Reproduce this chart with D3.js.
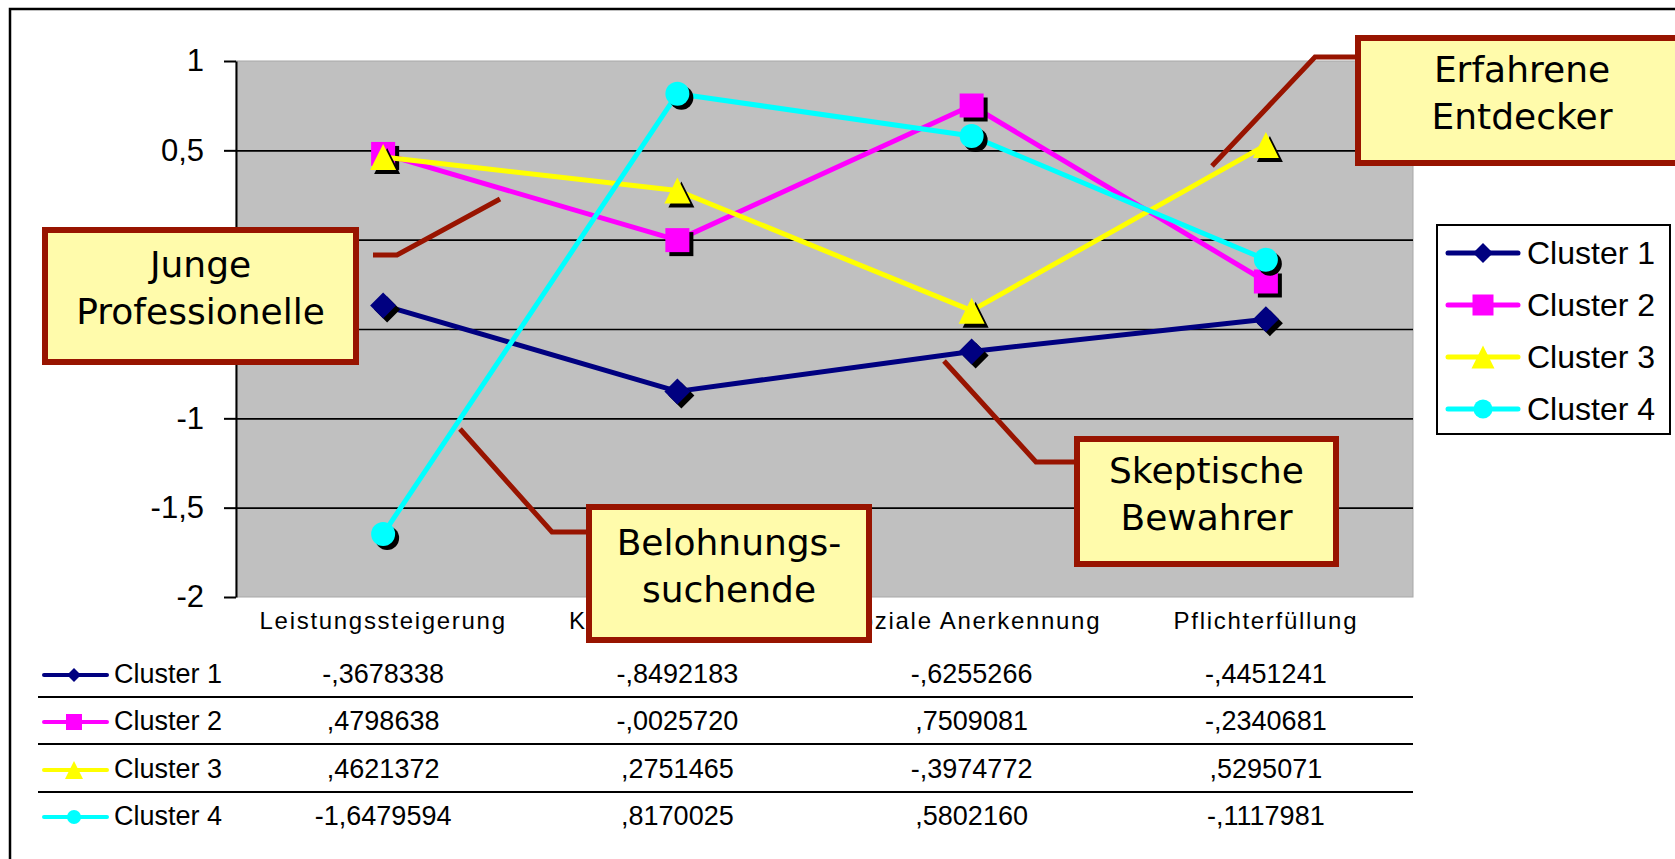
<!DOCTYPE html>
<head>
<meta charset="utf-8">
<style>
    body { margin: 0; background: #fff; }
    svg text { font-family: "Liberation Sans", Arial, sans-serif; fill: #000; }
    g.box text { font-family: "DejaVu Sans", Verdana, sans-serif; }
</style>
<script src="https://d3js.org/d3.v7.min.js"></script>
</head>
<body>
<script>
// chart values
var categories = ["Leistungssteigerung", "Karriereförderung", "Soziale Anerkennung", "Pflichterfüllung"];
var seriesNames = ["Cluster 1", "Cluster 2", "Cluster 3", "Cluster 4"];
var cluster1 = [-0.3678338, -0.8492183, -0.6255266, -0.4451241];
var cluster2 = [0.4798638, -0.0025720, 0.7509081, -0.2340681];
var cluster3 = [0.4621372, 0.2751465, -0.3974772, 0.5295071];
var cluster4 = [-1.6479594, 0.8170025, 0.5802160, -0.1117981];
var yTicks = [1, 0.5, 0, -0.5, -1, -1.5, -2];
var gridTicks = [0.5, 0, -0.5, -1, -1.5];

var seriesValues = [cluster1, cluster2, cluster3, cluster4];
var seriesColors = ["#000080", "#ff00ff", "#ffff00", "#00ffff"];
var seriesShapes = ["diamond", "square", "triangle", "circle"];

// callout boxes (layout only)
var callouts = [
    {lines: ["Junge", "Professionelle"], box: [42, 227, 317, 138], leader: [[373, 255], [397, 255], [500, 199]]},
    {lines: ["Belohnungs-", "suchende"], box: [586, 504, 286, 139], leader: [[460, 429], [552, 532], [586, 532]]},
    {lines: ["Skeptische", "Bewahrer"], box: [1074, 436, 265, 131], leader: [[944, 361], [1036, 462], [1074, 462]]},
    {lines: ["Erfahrene", "Entdecker"], box: [1355, 35, 340, 131], leader: [[1212, 166], [1315, 57], [1355, 57]]}
];

var width = 1675, height = 859;
var plot = {left: 236, top: 61, right: 1413, bottom: 597};
var calloutColor = "#981400";

var svg = d3.select("body").append("svg")
    .attr("width", width)
    .attr("height", height);

var x = d3.scaleBand()
    .domain(categories)
    .range([plot.left, plot.right]);

var y = d3.scaleLinear()
    .domain([-2, 1])
    .range([plot.bottom, plot.top]);

var deLocale = d3.formatLocale({decimal: ",", thousands: ".", grouping: [3], currency: ["", "€"], minus: "-"});
var tickFmt = deLocale.format("~g");

function shapePath(type, s) {
    var h = s / 2;
    if (type == "diamond") return "M0," + (-h) + "L" + h + ",0L0," + h + "L" + (-h) + ",0Z";
    if (type == "square") return "M" + (-h) + "," + (-h) + "H" + h + "V" + h + "H" + (-h) + "Z";
    if (type == "triangle") return "M0," + (-h) + "L" + h + "," + h + "L" + (-h) + "," + h + "Z";
    return "M" + h + ",0A" + h + "," + h + " 0 1,1 " + (-h) + ",0A" + h + "," + h + " 0 1,1 " + h + ",0Z";
}
var chartSizes = {diamond: 26, square: 24, triangle: 26, circle: 24};
var legendSizes = {diamond: 20, square: 21, triangle: 23, circle: 19};
var tableSizes = {diamond: 14, square: 16, triangle: 18, circle: 14};

function fmtValue(v) {
    var s = v.toFixed(7).replace(".", ",");
    return s.replace(/^(-?)0,/, "$1,");
}

// outer frame
svg.append("rect")
    .attr("x", 10).attr("y", 9)
    .attr("width", 1720).attr("height", 900)
    .attr("fill", "none")
    .attr("stroke", "#000")
    .attr("stroke-width", 2.5);

// plot area
svg.append("rect")
    .attr("x", plot.left).attr("y", plot.top)
    .attr("width", plot.right - plot.left)
    .attr("height", plot.bottom - plot.top)
    .attr("fill", "#c0c0c0")
    .attr("stroke", "#a8a8a8")
    .attr("stroke-width", 1);

// grid lines
svg.append("g")
    .attr("transform", "translate(" + plot.left + ",0)")
    .call(d3.axisLeft(y).tickValues(gridTicks).tickSize(-(plot.right - plot.left)).tickFormat(""))
    .call(function(g) { g.select(".domain").remove(); })
    .selectAll("line")
    .attr("stroke", "#000")
    .attr("stroke-width", 1.6);

// y axis
var yAxis = svg.append("g")
    .attr("transform", "translate(" + plot.left + ",0)")
    .call(d3.axisLeft(y).tickValues(yTicks).tickSize(12).tickSizeOuter(0).tickPadding(20).tickFormat(tickFmt));
yAxis.select(".domain").attr("stroke", "#000").attr("stroke-width", 2);
yAxis.selectAll(".tick line").attr("stroke", "#000").attr("stroke-width", 2);
yAxis.selectAll("text")
    .style("font-family", "'Liberation Sans', Arial, sans-serif")
    .style("font-size", "31px")
    .attr("fill", "#000");

// category labels
var xAxis = svg.append("g")
    .attr("transform", "translate(0," + plot.bottom + ")")
    .call(d3.axisBottom(x).tickSize(0).tickPadding(15));
xAxis.select(".domain").remove();
xAxis.selectAll("text")
    .style("font-family", "'Liberation Sans', Arial, sans-serif")
    .style("font-size", "24px")
    .style("letter-spacing", "1.7px")
    .attr("fill", "#000");

// series
var line = d3.line()
    .x(function(d, i) { return x(categories[i]) + x.bandwidth() / 2; })
    .y(function(d) { return y(d); });

seriesValues.forEach(function(vals, si) {
    var g = svg.append("g");
    g.append("path")
        .datum(vals)
        .attr("d", line)
        .attr("fill", "none")
        .attr("stroke", seriesColors[si])
        .attr("stroke-width", 5)
        .attr("stroke-linejoin", "round");
    var shape = seriesShapes[si];
    g.selectAll("path.shadow")
        .data(vals)
        .enter().append("path")
        .attr("class", "shadow")
        .attr("d", shapePath(shape, chartSizes[shape]))
        .attr("transform", function(d, i) {
            return "translate(" + (x(categories[i]) + x.bandwidth() / 2 + 4) + "," + (y(d) + 4) + ")";
        })
        .attr("fill", "#000");
    g.selectAll("path.marker")
        .data(vals)
        .enter().append("path")
        .attr("class", "marker")
        .attr("d", shapePath(shape, chartSizes[shape]))
        .attr("transform", function(d, i) {
            return "translate(" + (x(categories[i]) + x.bandwidth() / 2) + "," + y(d) + ")";
        })
        .attr("fill", seriesColors[si]);
});

// legend
var legend = svg.append("g").attr("transform", "translate(1437,225)");
legend.append("rect")
    .attr("width", 233).attr("height", 209)
    .attr("fill", "#fff")
    .attr("stroke", "#000")
    .attr("stroke-width", 2);
var li = legend.selectAll("g.item")
    .data(seriesNames)
    .enter().append("g")
    .attr("class", "item")
    .attr("transform", function(d, i) { return "translate(0," + (28 + i * 52) + ")"; });
li.append("line")
    .attr("x1", 11).attr("x2", 81)
    .attr("stroke", function(d, i) { return seriesColors[i]; })
    .attr("stroke-width", 5)
    .attr("stroke-linecap", "round");
li.append("path")
    .attr("transform", "translate(46,0)")
    .attr("d", function(d, i) { var s = seriesShapes[i]; return shapePath(s, legendSizes[s]); })
    .attr("fill", function(d, i) { return seriesColors[i]; });
li.append("text")
    .attr("x", 90).attr("y", 11)
    .style("font-size", "32px")
    .text(function(d) { return d; });

// data table
var rowY = [683, 730, 778, 825];
var table = svg.append("g");
[697, 744, 792].forEach(function(yy) {
    table.append("line")
        .attr("x1", 38).attr("x2", plot.right)
        .attr("y1", yy).attr("y2", yy)
        .attr("stroke", "#000")
        .attr("stroke-width", 2);
});
seriesNames.forEach(function(name, si) {
    var ry = rowY[si];
    var shape = seriesShapes[si];
    table.append("line")
        .attr("x1", 44).attr("x2", 107)
        .attr("y1", ry - 8).attr("y2", ry - 8)
        .attr("stroke", seriesColors[si])
        .attr("stroke-width", 4)
        .attr("stroke-linecap", "round");
    table.append("path")
        .attr("transform", "translate(74," + (ry - 8) + ")")
        .attr("d", shapePath(shape, tableSizes[shape]))
        .attr("fill", seriesColors[si]);
    table.append("text")
        .attr("x", 114).attr("y", ry)
        .style("font-size", "27px")
        .text(name);
    table.selectAll("text.v" + si)
        .data(seriesValues[si])
        .enter().append("text")
        .attr("class", "v" + si)
        .attr("x", function(d, i) { return x(categories[i]) + x.bandwidth() / 2; })
        .attr("y", ry)
        .attr("text-anchor", "middle")
        .style("font-size", "27px")
        .text(function(d) { return fmtValue(d); });
});

// callouts
callouts.forEach(function(c) {
    svg.append("path")
        .attr("d", d3.line()(c.leader))
        .attr("fill", "none")
        .attr("stroke", calloutColor)
        .attr("stroke-width", 5);
    var b = svg.append("g").attr("class", "box");
    b.append("rect")
        .attr("x", c.box[0] + 3).attr("y", c.box[1] + 3)
        .attr("width", c.box[2] - 6).attr("height", c.box[3] - 6)
        .attr("fill", "#fffbab")
        .attr("stroke", calloutColor)
        .attr("stroke-width", 6);
    var cx = c.box[0] + c.box[2] / 2;
    if (c.box[0] + c.box[2] > width) cx = c.box[0] + 167;
    var cy = c.box[1] + c.box[3] / 2 - 8;
    c.lines.forEach(function(t, i) {
        b.append("text")
            .attr("x", cx)
            .attr("y", cy + (i - 0.5) * 47)
            .attr("dy", "0.36em")
            .attr("text-anchor", "middle")
            .style("font-size", "36px")
            .text(t);
    });
});
</script>
</body>
